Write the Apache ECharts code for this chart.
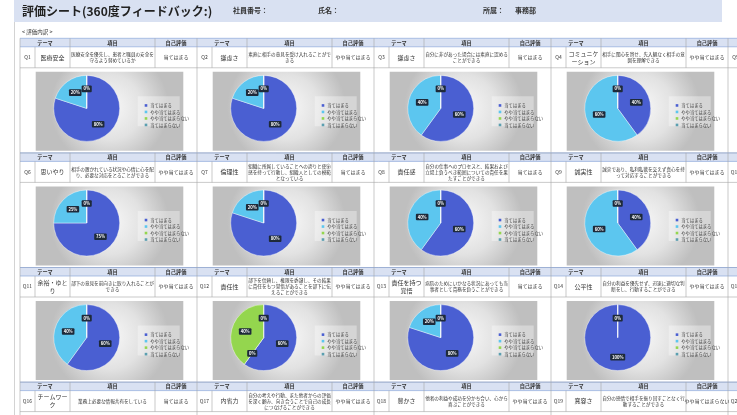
<!DOCTYPE html>
<html>
<head>
<meta charset="utf-8">
<script src="https://cdn.jsdelivr.net/npm/echarts@6/dist/echarts.min.js"></script>
<style>
html,body{margin:0;padding:0;background:#fff;}
#main{width:737px;height:415px;}
</style>
</head>
<body>
<div id="main"></div>
<script>
// ---- data ----
const categories = ['当てはまる', 'やや当てはまる', 'やや当てはまらない', '当てはまらない'];
const qNumbers = ['Q1','Q2','Q3','Q4','Q6','Q7','Q8','Q9','Q11','Q12','Q13','Q14','Q16','Q17','Q18','Q19'];
const hiddenNumbers = ['Q5','Q10','Q15','Q20'];
const themes = ['医療安全','謙虚さ','謙虚さ','コミュニケーション','思いやり','倫理性','責任感','誠実性','余裕・ゆとり','責任性','責任を持つ覚悟','公平性','チームワーク','内省力','豊かさ','寛容さ'];
const items = [
  '医療安全を優先し、患者と職員の安全を守るよう努めているか',
  '素直に相手の意見を受け入れることができる',
  '自分に非があった場合には素直に認めることができる',
  '相手に関心を寄せ、先入観なく相手の意図を理解できる',
  '相手の置かれている状況や心情に心を配り、必要な対応をとることができる',
  '組織に所属していることへの誇りと使命感を持って行動し、組織人としての模範となっている',
  '自分の仕事へのプロセスと、結果および立場上負うべき範囲についての責任を果たすことができる',
  '誠実であり、私利私欲を交えず真心を持って対応することができる',
  '部下の意見を前向きに取り入れることができる',
  '部下を信頼し、権限を委譲し、その結果に責任をもつ覚悟があることを部下に伝えることができる',
  '病院のためにいかなる状況にあっても当事者として責務を負うことができる',
  '自分の利益を優先せず、迅速に適切な判断をし、行動することができる',
  '業務上必要な情報共有をしている',
  '自分の考えや行動、また他者からの評価を深く顧み、向き合うことで自己の成長につなげることができる',
  '他者の利益や成功を分かち合い、心から喜ぶことができる',
  '自分の感情で相手を振り回すことなく行動することができる'
];
const selfEval = ['当てはまる','やや当てはまる','当てはまる','やや当てはまる','やや当てはまる','当てはまる','当てはまる','やや当てはまる','やや当てはまる','やや当てはまる','当てはまる','やや当てはまる','当てはまる','やや当てはまる','やや当てはまる','やや当てはまらない'];
// pie values (%) per question, order = categories
const pieValues = [
  [80, 20, 0, 0],  // Q1
  [80, 20, 0, 0],  // Q2
  [60, 40, 0, 0],  // Q3
  [40, 60, 0, 0],  // Q4
  [75, 25, 0, 0],  // Q6
  [80, 20, 0, 0],  // Q7
  [60, 40, 0, 0],  // Q8
  [40, 60, 0, 0],  // Q9
  [60, 40, 0, 0],  // Q11
  [60, 0, 40, 0],  // Q12
  [80, 20, 0, 0],  // Q13
  [100, 0, 0, 0]   // Q14
];
const sliceColors = ['#4a5fd2', '#5cc6ef', '#94d64e', '#5b9fb0'];

// ---- layout ----
const FONT = '"Noto Sans CJK JP", "Noto Sans", sans-serif';
const gx0 = 20, gW = 177;
const colW = [15, 35, 85, 42];
const by0 = 38.3, bH = 114.6, hdrH = 8.5, rowH = 21, chartH = 85.1;
const hdrFill = '#d9e1f2', hdrLine = '#8ea9db', gridLine = '#a6a6a6', txt = '#333';

const graphic = [];
function T(x, y, text, size, opts) {
  opts = opts || {};
  graphic.push({
    type: 'text', x: x, y: y, silent: true, z: 10,
    style: Object.assign({
      text: text, fill: txt, fontSize: size, fontFamily: FONT,
      align: 'center', verticalAlign: 'middle'
    }, opts)
  });
}
function L(x1, y1, x2, y2, c, w) {
  graphic.push({ type: 'line', silent: true, z: 5,
    shape: {x1: x1, y1: y1, x2: x2, y2: y2},
    style: {stroke: c, lineWidth: w || 0.6} });
}
function R(x, y, w, h, fill, z) {
  graphic.push({ type: 'rect', silent: true, z: z || 1,
    shape: {x: x, y: y, width: w, height: h}, style: {fill: fill} });
}

// title band
R(14, 0, 708, 22, hdrFill, 0);
T(22, 11, '評価シート(360度フィードバック:)', 12, {align: 'left', fontWeight: 'bold', fill: '#222'});
T(233, 10, '社員番号：', 7, {align: 'left', fontWeight: 'bold'});
T(318, 10, '氏名：', 7, {align: 'left', fontWeight: 'bold'});
T(483, 10, '所属：', 7, {align: 'left', fontWeight: 'bold'});
T(515, 10, '事務部', 7, {align: 'left', fontWeight: 'bold'});
T(22, 32.3, '< 評価内訳 >', 5.5, {align: 'left'});
L(14.5, 22, 14.5, 415, '#c8c8c8', 0.8);

const series = [];
const legends = [];

for (let b = 0; b < 4; b++) {
  const top = by0 + b * bH;
  const yData = top + hdrH;
  const yChart = yData + rowH;
  const yEnd = yChart + chartH;
  R(gx0, top, 737 - gx0, hdrH, hdrFill, 1);
  L(gx0, top, 737, top, hdrLine, 0.7);
  L(gx0, yData, 737, yData, hdrLine, 0.7);
  L(gx0, yChart, 737, yChart, gridLine);
  for (let g = 0; g < 5; g++) {
    const x = gx0 + g * gW;
    const c1 = x + colW[0], c2 = c1 + colW[1], c3 = c2 + colW[2];
    L(x, top, x, Math.min(yEnd, 415), gridLine);
    L(c1, yData, c1, yChart, gridLine);
    L(c2, top, c2, yChart, gridLine);
    L(c3, top, c3, yChart, gridLine);
    T(x + (colW[0] + colW[1]) / 2, top + hdrH / 2, 'テーマ', 5.2, {fontWeight: 'bold'});
    T(c2 + colW[2] / 2, top + hdrH / 2, '項目', 5.2, {fontWeight: 'bold'});
    T(c3 + colW[3] / 2, top + hdrH / 2, '自己評価', 5.2, {fontWeight: 'bold'});
    const ym = yData + rowH / 2;
    if (g === 4) {
      T(x + colW[0] / 2, ym, hiddenNumbers[b], 5);
      continue;
    }
    const k = b * 4 + g;
    T(x + colW[0] / 2, ym, qNumbers[k], 5);
    T(c1 + colW[1] / 2, ym, themes[k], 6, {width: 31, overflow: 'break', lineHeight: 8});
    T(c2 + colW[2] / 2, ym, items[k], 4.6, {width: 83, overflow: 'break', lineHeight: 6});
    T(c3 + colW[3] / 2, ym, selfEval[k], 5);
    if (b < 3) {
      const bx = x + 15.7, byy = yChart + 4, bw = 147.6, bh = 79;
      graphic.push({ type: 'rect', silent: true, z: 0,
        shape: {x: bx, y: byy, width: bw, height: bh},
        style: {fill: {type: 'radial', x: 0.5, y: 0.45, r: 0.75,
          colorStops: [{offset: 0, color: '#f8f8f8'}, {offset: 0.55, color: '#e2e2e2'}, {offset: 1, color: '#bfbfbf'}]}} });
      R(bx + 102, byy + 24.5, 42, 30, 'rgba(255,255,255,0.35)', 0);
      const vals = pieValues[k];
      series.push({
        type: 'pie', z: 3,
        center: [bx + 51, byy + 36.6], radius: 33,
        startAngle: 90, clockwise: true,
        avoidLabelOverlap: false,
        label: {position: 'inside', formatter: '{c}%', color: '#fff', fontSize: 4.2,
          fontWeight: 'bold', fontFamily: FONT,
          backgroundColor: '#1e2a3a', padding: [1.2, 1.8], borderRadius: 1},
        labelLine: {show: false},
        emphasis: {disabled: true},
        itemStyle: {borderColor: '#ffffff', borderWidth: 0.4},
        data: categories.map((n, i) => ({name: n, value: vals[i], itemStyle: {color: sliceColors[i]}}))
      });
      legends.push({
        left: bx + 104, top: byy + 26.5, orient: 'vertical',
        itemWidth: 2.6, itemHeight: 2.6, itemGap: 2.2, icon: 'rect',
        itemStyle: {borderWidth: 0},
        textStyle: {fontSize: 4.3, color: '#444', fontFamily: FONT, padding: [0, 0, 0, -2]},
        data: categories.map((n, i) => ({name: n, itemStyle: {color: sliceColors[i], borderWidth: 0}})),
        selectedMode: false
      });
    }
  }
  L(gx0, yEnd, 737, yEnd, gridLine);
}

const chart = echarts.init(document.getElementById('main'), null, {renderer: 'canvas'});
chart.setOption({
  animation: false,
  backgroundColor: '#fff',
  color: sliceColors,
  legend: legends,
  series: series,
  graphic: graphic
});
</script>
</body>
</html>
